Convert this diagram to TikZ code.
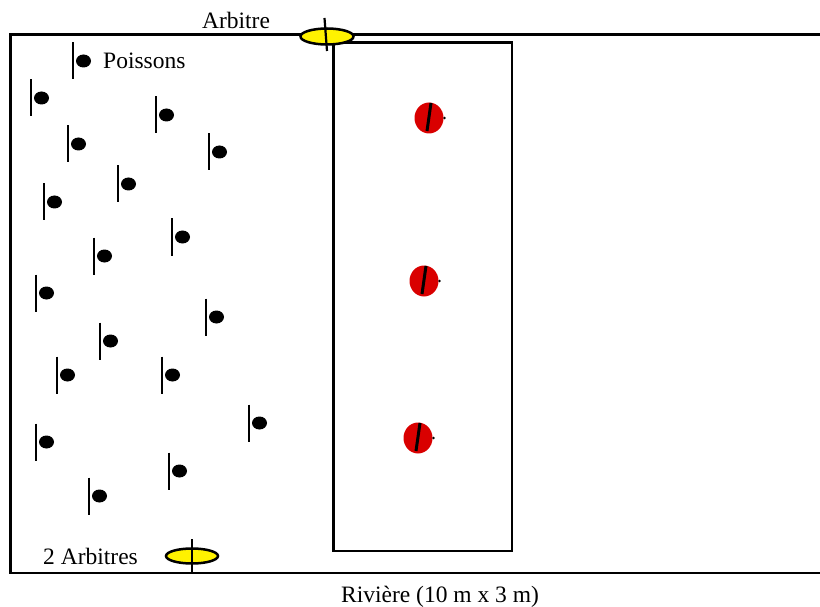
\documentclass[tikz,border=0pt]{standalone}
\usepackage{fontspec}
\setmainfont{Liberation Serif}
\tikzset{
  bord/.style={line width=2.8pt},
  arbitre/.style={draw=black,fill=yellow,line width=2.5pt},
  baton/.style={line width=2.2pt},
  plot/.style={fill=red!85!black},
  texte/.style={font=\fontsize{23.5}{27}\selectfont,inner sep=0pt}
}
\begin{document}
\begin{tikzpicture}[x=1pt,y=-1pt]
\useasboundingbox (0,0) rectangle (820,607);
  % riviere
  \draw[bord] (821,34.5)--(10.5,34.5)--(10.5,573)--(821,573);
  \draw[bord] (333.5,42.5) rectangle (512,551);
  % poissons
  \foreach \lx/\cy in {73/61,31/98,156/115,68/144,209/152,118/184,44/202,
      172/237,94/256,36/293,206/317,100/341,57/375,162/375,249/423,36/442,
      169/471,89/496}{
    \draw[baton] (\lx,\cy-18.5)--(\lx,\cy+18.5);
    \fill (\lx+10.5,\cy) ellipse (7.5 and 6.5);
  }
  % plots
  \foreach \cx/\cy in {429/118,424/281,418/438}{
    \fill[plot] (\cx,\cy) ellipse (14.5 and 15.5);
    \draw[line width=3pt] (\cx+2,\cy-15)--(\cx-2,\cy+13);
    \fill (\cx+15.5,\cy) circle (1.4);
  }
  % arbitres
  \draw[arbitre] (327,36.5) ellipse (26.5 and 8);
  \draw[baton] (324.5,18)--(327,51);
  \draw[arbitre] (192,556) ellipse (26 and 7.5);
  \draw[baton] (192,539)--(192,573);
  % textes
  \node[texte] (arb) at (236,20) {Arbitre};
  \node[texte,anchor=west] (poi) at (103,61) {Poissons};
  \node[texte,anchor=west] (arb2) at (43,556) {2 Arbitres};
  \node[texte] (riv) at (440,597) {Rivière (10 m x 3 m)};
\end{tikzpicture}
\end{document}
